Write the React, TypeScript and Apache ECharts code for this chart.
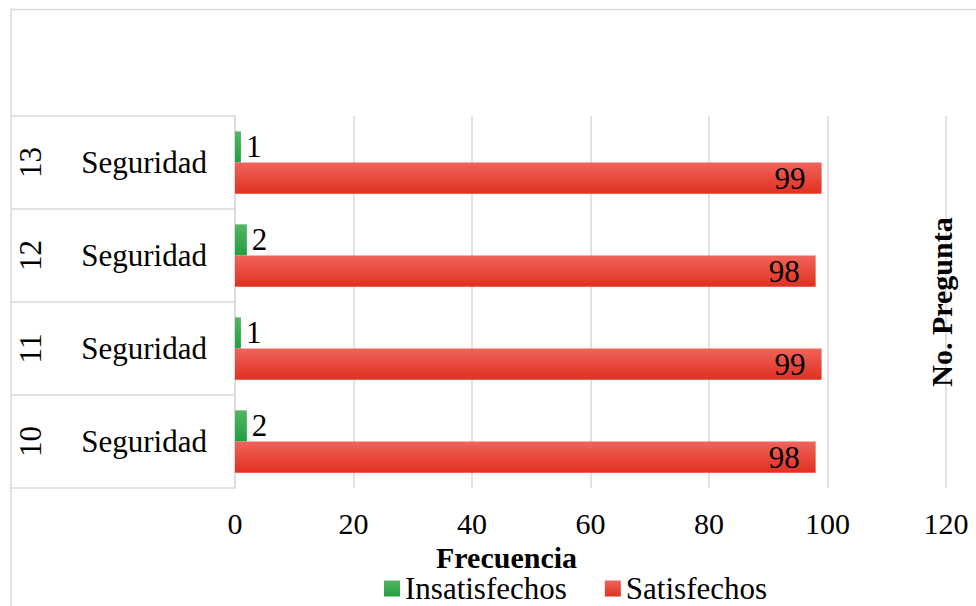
import React, { useEffect, useRef } from "react";
import * as echarts from "echarts";

// Question numbers and their dimension, bottom to top
const questions = ["10", "11", "12", "13"];
const dimensions = ["Seguridad", "Seguridad", "Seguridad", "Seguridad"];

// Response counts per question
const insatisfechos = [2, 1, 2, 1];
const satisfechos = [98, 99, 98, 99];

const xTicks = { min: 0, max: 120, interval: 20 };

const FONT = "'Liberation Serif', 'Times New Roman', serif";
const GRID = "#d9d9d9";

export default function App() {
  const ref = useRef<HTMLDivElement>(null);

  useEffect(() => {
    if (!ref.current) return;
    const chart = echarts.init(ref.current, undefined, { renderer: "svg" });

    const green = new echarts.graphic.LinearGradient(0, 0, 0, 1, [
      { offset: 0, color: "#55b566" },
      { offset: 1, color: "#1f9f40" },
    ]);
    const red = new echarts.graphic.LinearGradient(0, 0, 0, 1, [
      { offset: 0, color: "#f0645c" },
      { offset: 1, color: "#e0301f" },
    ]);

    chart.setOption({
      animation: false,
      backgroundColor: "#ffffff",
      textStyle: { fontFamily: FONT, color: "#000" },
      graphic: [
        {
          type: "rect",
          shape: { x: 11, y: 9.5, width: 1100, height: 800 },
          style: { fill: "none", stroke: GRID, lineWidth: 1.5 },
          silent: true,
        },
      ],
      grid: { left: 235, right: 30, top: 116, bottom: 118 },
      legend: {
        left: 379,
        top: 568,
        itemWidth: 16,
        itemHeight: 16,
        itemGap: 38,
        icon: "rect",
        data: ["Insatisfechos", "Satisfechos"],
        textStyle: { fontFamily: FONT, fontSize: 31, color: "#000" },
      },
      xAxis: {
        type: "value",
        min: xTicks.min,
        max: xTicks.max,
        interval: xTicks.interval,
        name: "Frecuencia",
        nameLocation: "middle",
        nameGap: 38,
        nameTextStyle: {
          fontFamily: FONT,
          fontSize: 30,
          fontWeight: "bold",
          color: "#000",
          padding: [0, 168, 0, 0],
        },
        axisLine: { show: false },
        axisTick: { show: false },
        axisLabel: { fontFamily: FONT, fontSize: 30, color: "#000", margin: 20 },
        splitLine: { show: true, lineStyle: { color: GRID, width: 1.5 } },
      },
      yAxis: [
        {
          type: "category",
          data: dimensions,
          position: "left",
          axisLine: { show: true, lineStyle: { color: GRID, width: 1.5 } },
          axisTick: { show: true, length: 224, lineStyle: { color: GRID, width: 1.5 } },
          axisLabel: { fontFamily: FONT, fontSize: 31, color: "#000", margin: 28 },
          splitLine: { show: false },
        },
        {
          type: "category",
          data: questions,
          position: "left",
          axisLine: { show: false },
          axisTick: { show: false },
          axisLabel: {
            fontFamily: FONT,
            fontSize: 31,
            color: "#000",
            rotate: 90,
            margin: 189,
          },
          splitLine: { show: false },
        },
        {
          type: "category",
          data: questions,
          position: "right",
          name: "No. Pregunta",
          nameLocation: "middle",
          nameRotate: 90,
          nameGap: -20,
          nameTextStyle: { fontFamily: FONT, fontSize: 30, fontWeight: "bold", color: "#000" },
          axisLine: { show: false },
          axisTick: { show: false },
          axisLabel: { show: false },
          splitLine: { show: false },
        },
      ],
      series: [
        {
          name: "Insatisfechos",
          type: "bar",
          yAxisIndex: 0,
          data: insatisfechos,
          barGap: "0%",
          barCategoryGap: "33%",
          itemStyle: { color: green },
          label: {
            show: true,
            position: "right",
            distance: 5,
            fontFamily: FONT,
            fontSize: 31,
            color: "#000",
          },
        },
        {
          name: "Satisfechos",
          type: "bar",
          yAxisIndex: 0,
          data: satisfechos,
          barGap: "0%",
          barCategoryGap: "33%",
          itemStyle: { color: red },
          label: {
            show: true,
            position: "insideRight",
            distance: 16,
            fontFamily: FONT,
            fontSize: 31,
            color: "#000",
          },
        },
      ],
    });

    return () => chart.dispose();
  }, []);

  return (
    <div
      ref={ref}
      style={{ position: "fixed", left: 0, top: 0, width: 976, height: 606 }}
    />
  );
}
